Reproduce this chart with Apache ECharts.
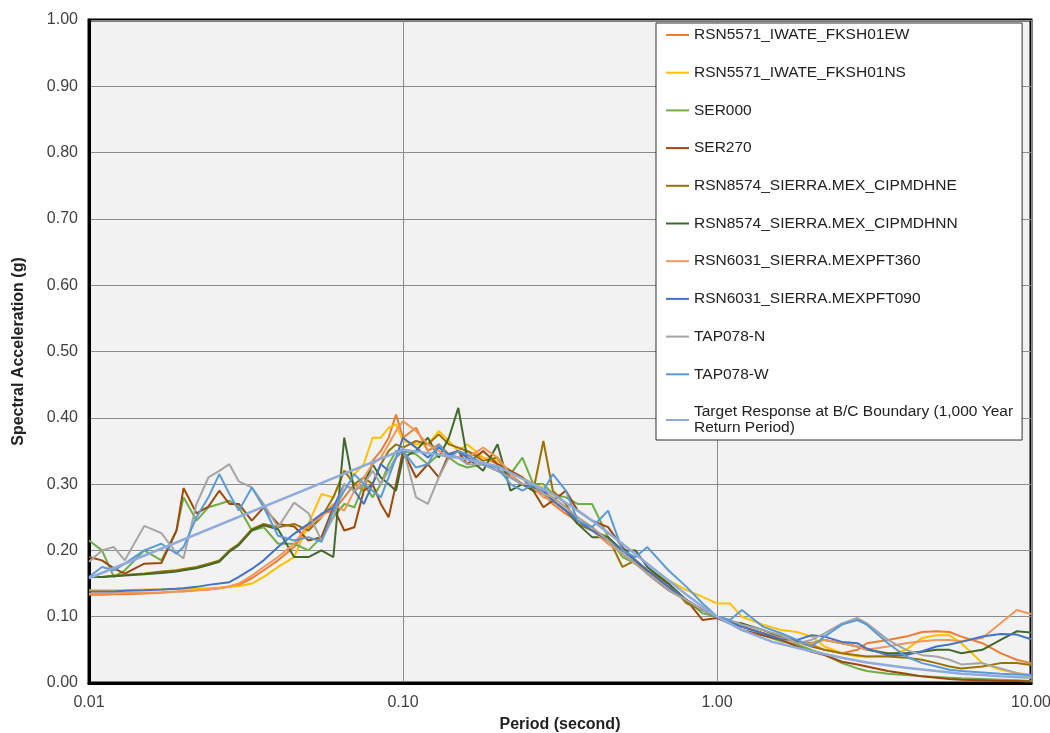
<!DOCTYPE html>
<html><head><meta charset="utf-8">
<script src="https://cdn.jsdelivr.net/npm/echarts@6/dist/echarts.min.js"></script>
<style>html,body{margin:0;padding:0;background:#fff}#c{width:1050px;height:733px}</style>
</head><body><div id="c"></div>
<script>
const periods = [0.01,0.011,0.012,0.013,0.015,0.017,0.019,0.02,0.022,0.024,
 0.026,0.028,0.03,0.033,0.036,0.04,0.045,0.05,0.055,0.06,
 0.065,0.07,0.075,0.08,0.085,0.09,0.095,0.1,0.11,0.12,
 0.13,0.14,0.15,0.16,0.18,0.2,0.22,0.24,0.26,0.28,
 0.3,0.33,0.36,0.4,0.45,0.5,0.55,0.6,0.7,0.8,
 0.9,1.0,1.1,1.2,1.4,1.6,1.8,2.0,2.2,2.5,
 2.8,3.0,3.5,4.0,4.5,5.0,5.5,6.0,7.0,8.0,
 9.0,10.0];

const iwateEW = [0.133,0.133,0.134,0.134,0.135,0.136,0.138,0.138,0.140,0.141,
 0.143,0.145,0.148,0.158,0.170,0.185,0.205,0.235,0.255,0.260,
 0.280,0.300,0.290,0.335,0.350,0.370,0.405,0.370,0.385,0.350,
 0.360,0.345,0.340,0.350,0.340,0.330,0.310,0.300,0.290,0.285,
 0.270,0.255,0.245,0.235,0.210,0.195,0.180,0.170,0.145,0.125,
 0.110,0.100,0.090,0.085,0.075,0.068,0.062,0.058,0.050,0.045,
 0.050,0.060,0.065,0.070,0.077,0.078,0.077,0.070,0.060,0.045,
 0.035,0.030];

const iwateNS = [0.140,0.140,0.140,0.140,0.141,0.141,0.142,0.142,0.143,0.143,
 0.144,0.145,0.146,0.150,0.160,0.175,0.190,0.240,0.285,0.280,
 0.320,0.315,0.330,0.370,0.370,0.385,0.390,0.365,0.360,0.360,
 0.380,0.365,0.350,0.360,0.340,0.335,0.320,0.310,0.300,0.295,
 0.280,0.265,0.250,0.235,0.215,0.200,0.185,0.170,0.155,0.140,
 0.130,0.120,0.120,0.100,0.088,0.080,0.077,0.070,0.055,0.045,
 0.040,0.040,0.042,0.050,0.068,0.072,0.072,0.060,0.030,0.020,
 0.015,0.012];

const ser000 = [0.215,0.200,0.160,0.170,0.200,0.185,0.230,0.280,0.245,0.265,
 0.270,0.275,0.265,0.230,0.235,0.210,0.210,0.200,0.220,0.250,
 0.270,0.265,0.300,0.280,0.300,0.330,0.350,0.350,0.345,0.330,
 0.345,0.340,0.330,0.325,0.330,0.320,0.315,0.340,0.300,0.300,
 0.285,0.280,0.270,0.270,0.220,0.190,0.180,0.170,0.150,0.125,
 0.105,0.100,0.090,0.080,0.072,0.063,0.058,0.050,0.043,0.030,
 0.022,0.018,0.014,0.012,0.010,0.009,0.008,0.007,0.006,0.005,
 0.004,0.003];

const ser270 = [0.190,0.185,0.173,0.165,0.180,0.181,0.230,0.294,0.256,0.266,
 0.290,0.270,0.270,0.245,0.265,0.240,0.236,0.215,0.220,0.265,
 0.230,0.235,0.290,0.300,0.270,0.250,0.300,0.350,0.310,0.330,
 0.310,0.345,0.350,0.330,0.350,0.330,0.320,0.310,0.290,0.265,
 0.275,0.290,0.260,0.245,0.235,0.205,0.185,0.165,0.140,0.125,
 0.095,0.098,0.090,0.080,0.072,0.065,0.055,0.047,0.042,0.032,
 0.028,0.025,0.018,0.014,0.010,0.008,0.006,0.005,0.004,0.003,
 0.003,0.002];

const sierraNE = [0.160,0.160,0.162,0.163,0.165,0.168,0.170,0.172,0.175,0.180,
 0.185,0.200,0.210,0.232,0.240,0.235,0.240,0.230,0.250,0.280,
 0.320,0.300,0.310,0.300,0.330,0.350,0.360,0.355,0.365,0.360,
 0.375,0.360,0.355,0.350,0.335,0.340,0.310,0.300,0.290,0.365,
 0.290,0.270,0.240,0.230,0.220,0.175,0.185,0.170,0.150,0.120,
 0.110,0.100,0.090,0.085,0.075,0.068,0.062,0.055,0.050,0.045,
 0.042,0.040,0.040,0.038,0.035,0.030,0.025,0.022,0.025,0.030,
 0.030,0.027];

const sierraNN = [0.160,0.160,0.161,0.162,0.164,0.166,0.168,0.170,0.173,0.178,
 0.183,0.198,0.208,0.230,0.238,0.232,0.190,0.190,0.200,0.190,
 0.370,0.290,0.300,0.330,0.310,0.300,0.290,0.340,0.350,0.370,
 0.340,0.370,0.415,0.340,0.320,0.360,0.290,0.300,0.290,0.290,
 0.275,0.260,0.240,0.220,0.220,0.200,0.200,0.175,0.150,0.125,
 0.110,0.100,0.092,0.090,0.080,0.070,0.063,0.060,0.065,0.060,
 0.055,0.050,0.045,0.045,0.047,0.050,0.050,0.045,0.050,0.065,
 0.078,0.076];

const pft360 = [0.135,0.135,0.135,0.136,0.136,0.137,0.138,0.139,0.140,0.141,
 0.143,0.146,0.150,0.162,0.175,0.190,0.210,0.240,0.250,0.270,
 0.260,0.290,0.310,0.330,0.340,0.360,0.380,0.395,0.380,0.360,
 0.350,0.340,0.350,0.340,0.355,0.340,0.315,0.300,0.295,0.280,
 0.275,0.260,0.245,0.230,0.210,0.195,0.180,0.165,0.145,0.125,
 0.110,0.100,0.092,0.085,0.075,0.068,0.060,0.060,0.065,0.060,
 0.055,0.050,0.055,0.060,0.063,0.065,0.065,0.063,0.068,0.090,
 0.110,0.104];

const pft090 = [0.138,0.138,0.138,0.139,0.140,0.141,0.142,0.143,0.145,0.148,
 0.150,0.152,0.160,0.172,0.185,0.205,0.225,0.240,0.255,0.265,
 0.300,0.290,0.270,0.300,0.330,0.320,0.340,0.370,0.355,0.340,
 0.355,0.345,0.350,0.340,0.330,0.320,0.310,0.300,0.295,0.290,
 0.275,0.260,0.245,0.230,0.215,0.200,0.185,0.170,0.145,0.125,
 0.110,0.100,0.092,0.085,0.075,0.066,0.065,0.072,0.070,0.062,
 0.060,0.052,0.042,0.042,0.048,0.055,0.058,0.062,0.070,0.074,
 0.073,0.066];

const tapN = [0.183,0.200,0.205,0.185,0.237,0.226,0.196,0.188,0.270,0.310,
 0.320,0.330,0.304,0.295,0.270,0.235,0.272,0.256,0.215,0.250,
 0.300,0.290,0.300,0.320,0.300,0.320,0.340,0.355,0.280,0.270,
 0.310,0.340,0.340,0.330,0.330,0.320,0.310,0.300,0.300,0.285,
 0.280,0.265,0.250,0.235,0.215,0.195,0.180,0.165,0.140,0.125,
 0.110,0.100,0.095,0.088,0.080,0.072,0.060,0.065,0.075,0.090,
 0.098,0.090,0.065,0.050,0.042,0.040,0.035,0.028,0.030,0.022,
 0.015,0.010];

const tapW = [0.160,0.175,0.170,0.180,0.200,0.210,0.195,0.205,0.250,0.280,
 0.315,0.285,0.260,0.295,0.265,0.222,0.215,0.220,0.213,0.260,
 0.290,0.315,0.300,0.290,0.280,0.310,0.340,0.350,0.325,0.330,
 0.360,0.340,0.350,0.345,0.330,0.325,0.300,0.290,0.300,0.290,
 0.315,0.290,0.245,0.235,0.260,0.200,0.190,0.205,0.170,0.145,
 0.120,0.100,0.095,0.110,0.085,0.075,0.065,0.055,0.070,0.088,
 0.095,0.088,0.060,0.040,0.030,0.025,0.020,0.018,0.016,0.014,
 0.013,0.012];

const targetPeriods = [0.01,0.1,0.15,0.2,0.3,0.4,0.5,0.6,0.7,0.8,0.9,1.0,1.2,1.5,2.0,2.5,3.0,4.0,5.0,6.0,7.0,8.0,10.0];
const targetValues = [0.158,0.352,0.340,0.327,0.285,0.245,0.210,0.180,0.155,0.133,0.115,0.100,0.080,0.062,0.048,0.038,0.031,0.023,0.018,0.014,0.012,0.010,0.008];

const seriesNames = ['RSN5571_IWATE_FKSH01EW','RSN5571_IWATE_FKSH01NS','SER000','SER270',
 'RSN8574_SIERRA.MEX_CIPMDHNE','RSN8574_SIERRA.MEX_CIPMDHNN','RSN6031_SIERRA.MEXPFT360',
 'RSN6031_SIERRA.MEXPFT090','TAP078-N','TAP078-W','Target Response at B/C Boundary (1,000 Year Return Period)'];
const seriesColors = ['#ED7D31','#FFC000','#70AD47','#9E480E','#997300','#43682B','#F1975A','#4472C4','#A5A5A5','#5B9BD5','#8FAADC'];
const seriesValues = [iwateEW, iwateNS, ser000, ser270, sierraNE, sierraNN, pft360, pft090, tapN, tapW];

const font = "'Liberation Sans', Arial, sans-serif";
const series = seriesValues.map((vals, i) => ({
  name: seriesNames[i], type: 'line', showSymbol: false, symbol: 'none',
  data: periods.map((p, j) => [p, vals[j]]),
  lineStyle: { color: seriesColors[i], width: 2 },
  itemStyle: { color: seriesColors[i] }
}));
series.push({
  name: seriesNames[10], type: 'line', showSymbol: false, symbol: 'none',
  data: targetPeriods.map((p, j) => [p, targetValues[j]]),
  lineStyle: { color: seriesColors[10], width: 2.5 },
  itemStyle: { color: seriesColors[10] }
});

const chart = echarts.init(document.getElementById('c'), null, { renderer: 'canvas' });
chart.setOption({
  animation: false,
  backgroundColor: '#fff',
  grid: { left: 89, right: 19, top: 20, bottom: 50, outerBoundsMode: 'none', containLabel: false,
          show: true, backgroundColor: '#f2f2f2', borderColor: '#000', borderWidth: 3 },
  legend: {
    orient: 'vertical', left: 656, top: 23,
    backgroundColor: '#fff', borderColor: '#333', borderWidth: 1,
    padding: [4, 9, 4, 10], itemGap: 21.7, itemWidth: 23, itemHeight: 2, icon: 'rect',
    textStyle: { fontSize: 15.5, color: '#222', fontFamily: font },
    formatter: n => n === seriesNames[10] ? 'Target Response at B/C Boundary (1,000 Year\nReturn Period)' : n,
    data: seriesNames
  },
  xAxis: {
    type: 'log', logBase: 10, min: 0.01, max: 10,
    axisLine: { show: true, lineStyle: { color: '#000', width: 3 } },
    axisTick: { show: false },
    axisLabel: { formatter: v => Number(v).toFixed(2), fontSize: 16, color: '#404040', margin: 12, fontFamily: font },
    splitLine: { show: true, lineStyle: { color: '#8c8c8c', width: 1 } },
    name: 'Period (second)', nameLocation: 'middle', nameGap: 34,
    nameTextStyle: { fontWeight: 'bold', fontSize: 16, color: '#222', fontFamily: font }
  },
  yAxis: {
    type: 'value', min: 0, max: 1, interval: 0.1,
    axisLine: { show: true, lineStyle: { color: '#000', width: 3 } },
    axisTick: { show: false },
    axisLabel: { formatter: v => Number(v).toFixed(2), fontSize: 16, color: '#404040', margin: 11, fontFamily: font },
    splitLine: { show: true, lineStyle: { color: '#8c8c8c', width: 1 } },
    name: 'Spectral Acceleration (g)', nameLocation: 'middle', nameGap: 62, nameRotate: 90,
    nameTextStyle: { fontWeight: 'bold', fontSize: 16, color: '#222', fontFamily: font }
  },
  series: series
});
</script></body></html>
